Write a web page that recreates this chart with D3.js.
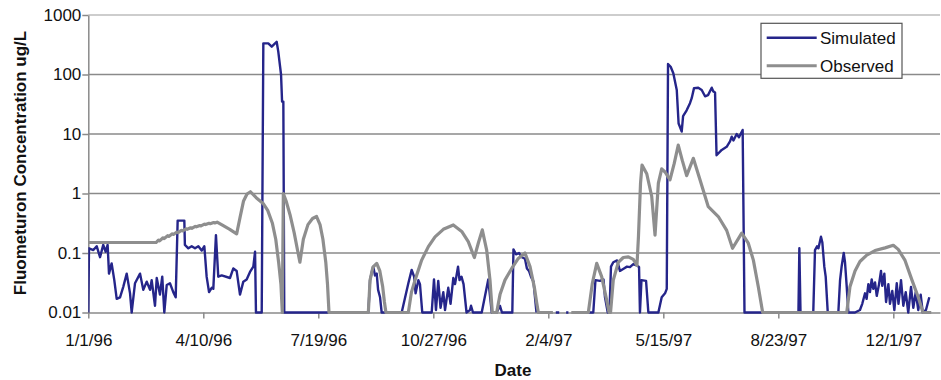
<!DOCTYPE html>
<html>
<head>
<meta charset="utf-8">
<script src="https://cdn.jsdelivr.net/npm/d3@7"></script>
<style>
  body { margin: 0; background: #fff; }
  text { font-family: "Liberation Sans", Arial, sans-serif; fill: #111; }
</style>
</head>
<body>
<div id="chart"></div>
<script>
const width = 941, height = 380;
const margin = { top: 15, right: 1, bottom: 67.5, left: 88.3 };

// days since 1/1/96, null = no value
const simDays = [0, 0.6, 4.4, 7.3, 10.2, 13, 15.1, 16.8, 18, 20.3, 22.6, 24.7, 27.6, 30.4, 33.4, 36.3, 37.7, 40.6, 45, 47.8, 50.8, 53.7, 55.1, 58, 59.5, 62.3, 64.3, 66.1, 68.2, 71, 73.9, 76, 77.7, 83.5, 84, 87, 89.9, 92.8, 95.7, 98.6, 100.9, 102.9, 105, 107.3, 108.7, 111, 113, 116, 123.2, 126.1, 129, 131.9, 134.8, 137.7, 140.6, 143.5, 145, 145.8, 150.8, 152.2, 156.5, 159.5, 161.5, 163.8, 165.2, 167.6, 168.5, 169.6, 170.4,
  243.5, 245, 246.7, 247.8, 249.3, 250.8, 252, 253.7, 255.1, 272.5, 278.3, 281.2, 283.3, 284.6, 287, 288.4, 290.4, 298.6, 300.6, 302.3, 304.3, 306.3, 308.7, 310.2, 313, 315, 317.4, 318.9, 321.5, 322.8, 324.5, 326.3, 328.9, 331.9, 332.8, 334.5, 342.1, 347.8, 350.8,
  355.1, 357.9, 359.7, 368.7, 369.7, 371.9, 374.5, 377.1, 379.7, 381.4, 383.2, 384.9, 387.1, 389.7, 398, 406.5, 409.5, 412, 415.5, 417.5, 425, 434.8,
  439.1, 441, 444.9, 448, 449.3, 451.7, 453.2, 454.5, 456.5, 459.8, 462.3, 465.8, 468.4, 471, 473.9, 476.7, 478.9, 479.7, 481, 485, 487, 495.7, 498.6, 501.5, 503, 504.1, 506.4, 508.7, 511.7, 513.3, 514.6, 516, 517.2, 520.3, 523.2, 524.7, 526.7, 530.4, 533.4, 536.3, 538.9, 542.1, 543.5, 545, 546.3, 550.8, 555.1, 558, 559.5, 561, 563.8, 565.8, 569, 570.6,
  617.5, 618.3, 619.3, 630.4, 631.9, 633.7, 634.9, 637.1, 638.3, 640, 641.2, 643, 652.2, 653.7, 655.1, 656.9, 658, 659.5, 660.9, 666.7, 671, 673, 675.4, 676.8, 678.3, 679.7, 681.2, 682.6, 684.1, 685.6, 687.6, 689.3, 690.4, 692.2, 693.7, 695.7, 697.1, 699.1, 700.9, 703, 704.5, 706.7, 708.7, 710.8, 713, 715.4, 717.4, 719.5, 721.7, 723.8, 725.6, 728.4, 731.3];
const simValues = [0.01, 0.12, 0.112, 0.13, 0.085, 0.137, 0.105, 0.137, 0.045, 0.067, 0.035, 0.017, 0.018, 0.027, 0.045, 0.021, 0.01, 0.031, 0.045, 0.024, 0.033, 0.024, 0.035, 0.013, 0.038, 0.02, 0.04, 0.01, 0.029, 0.031, 0.022, 0.018, 0.35, 0.35, 0.137, 0.12, 0.13, 0.12, 0.13, 0.11, 0.13, 0.04, 0.022, 0.026, 0.025, 0.2, 0.04, 0.042, 0.038, 0.055, 0.05, 0.02, 0.033, 0.036, 0.048, 0.059, 0.105, 0.01, 0.01, 334, 334, 293, 320, 355, 242, 100, 35, 35, 0.01,
  0.01, 0.035, 0.05, 0.059, 0.042, 0.045, 0.024, 0.018, 0.01, 0.01, 0.031, 0.052, 0.04, 0.021, 0.035, 0.03, 0.01, 0.01, 0.036, 0.011, 0.034, 0.012, 0.022, 0.011, 0.026, 0.014, 0.038, 0.03, 0.059, 0.035, 0.04, 0.03, 0.01, 0.011, 0.013, 0.01, 0.01, 0.036, 0.01,
  0.01, 0.013, 0.01, 0.01, 0.115, 0.095, 0.1, 0.085, 0.08, 0.055, 0.05, 0.04, 0.033, 0.01, null, 0.01, 0.01, null, 0.01, 0.01, null, 0.01,
  0.01, 0.035, 0.034, 0.036, 0.018, 0.01, 0.01, 0.059, 0.07, 0.075, 0.05, 0.055, 0.059, 0.058, 0.065, 0.062, 0.058, 0.01, 0.035, 0.034, 0.01, 0.01, 0.018, 0.021, 0.025, 150, 135, 105, 55, 15, 13, 11, 20, 25, 33, 40, 59, 60, 55, 43, 45, 60, 52, 50, 4.4, 5.4, 6.1, 7.5, 9, 7.8, 10, 8.8, 11.7, 0.01,
  0.01, 0.12, 0.01, 0.01, 0.112, 0.13, 0.12, 0.188, 0.15, 0.059, 0.04, 0.01, 0.01, 0.035, 0.06, 0.1, 0.07, 0.027, 0.01, 0.01, 0.011, 0.014, 0.021, 0.017, 0.03, 0.022, 0.036, 0.025, 0.032, 0.019, 0.03, 0.05, 0.028, 0.045, 0.015, 0.03, 0.014, 0.023, 0.011, 0.031, 0.014, 0.035, 0.013, 0.022, 0.01, 0.027, 0.012, 0.022, 0.011, 0.02, 0.01, 0.011, 0.018];

const obsDays = [0, 59, 61, 62, 65, 66, 69, 70, 73, 74, 77, 78, 81, 82, 85, 86, 89, 90, 93, 94, 97, 98, 101, 102, 105, 106, 109, 110, 112, 117, 123, 129, 132, 135, 138, 141, 146, 152, 156, 160, 163, 165.5, 167.5, 168.7, 169.6, 172, 175.4, 179, 182, 184, 187, 191, 195, 198.5, 201.5, 204, 206.5, 208, 209.3,
  243.5, 245, 247.5, 250.8, 253.5, 256, 257.5, 258.8, 278.3, 281, 284.1, 289.9, 295.7, 301.5, 308.7, 317.4, 324.7, 330.4, 335.7, 339.1, 342.6, 346.4, 349.3, 351.3,
  355.1, 358, 362.3, 368.2, 373.9, 379.7, 384.1, 387.8, 389.8, 391.3, 404, 412, 420, 434.8,
  438.3, 442.1, 446.4, 450.8, 452.8, 454.1, 456.5, 460.9, 465.2, 469.6, 473.9, 477.1, 478.4, 480.2, 481.5, 485.6, 489.9, 492.8, 495.7, 498.6, 501.5, 505.8, 509.5, 513, 516.5, 520.3, 526.1, 531.9, 539.1, 547.8, 555.1, 560.2, 568.2, 573.9, 578.3, 582.6, 586.4,
  659.5, 662.3, 666.7, 671, 676.9, 684.1, 692.8, 700, 704.3, 710.2, 716, 721.7, 725.8, 733];
const obsValues = [0.15, 0.15, 0.165, 0.16, 0.18, 0.175, 0.195, 0.19, 0.21, 0.205, 0.225, 0.22, 0.24, 0.235, 0.255, 0.25, 0.265, 0.26, 0.28, 0.275, 0.29, 0.285, 0.305, 0.3, 0.315, 0.31, 0.325, 0.32, 0.33, 0.29, 0.25, 0.21, 0.4, 0.75, 0.98, 1.07, 0.85, 0.68, 0.52, 0.32, 0.17, 0.07, 0.03, 0.01, 1.0, 0.75, 0.44, 0.22, 0.11, 0.07, 0.17, 0.3, 0.38, 0.41, 0.3, 0.17, 0.07, 0.03, 0.01,
  0.01, 0.035, 0.058, 0.067, 0.05, 0.027, 0.015, 0.01, 0.01, 0.022, 0.035, 0.076, 0.128, 0.187, 0.25, 0.296, 0.23, 0.155, 0.084, 0.146, 0.245, 0.112, 0.035, 0.01,
  0.01, 0.02, 0.035, 0.055, 0.081, 0.1, 0.059, 0.027, 0.015, 0.01, 0.01, null, 0.01, 0.01,
  0.031, 0.067, 0.04, 0.016, 0.01, 0.01, 0.035, 0.07, 0.084, 0.086, 0.078, 0.062, 0.19, 1.5, 3.0, 2.15, 0.9, 0.2, 1.5, 2.6, 2.3, 1.7, 3.2, 6.5, 3.6, 2.0, 3.9, 1.7, 0.6, 0.41, 0.24, 0.12, 0.216, 0.146, 0.076, 0.027, 0.01,
  0.01, 0.027, 0.05, 0.072, 0.092, 0.11, 0.122, 0.135, 0.115, 0.075, 0.036, 0.018, 0.01, 0.01];

const xTickDays = [0, 100, 200, 300, 400, 500, 600, 700];
const xTickLabels = ["1/1/96", "4/10/96", "7/19/96", "10/27/96", "2/4/97", "5/15/97", "8/23/97", "12/1/97"];
const yTickValues = [0.01, 0.1, 1, 10, 100, 1000];
const yTickLabels = ["0.01", "0.1", "1", "10", "100", "1000"];
const seriesNames = ["Simulated", "Observed"];
const seriesColors = ["#25258a", "#8e8e8e"];

const start = new Date(Date.UTC(1996, 0, 1));
const toDate = d => new Date(start.getTime() + d * 864e5);

const svg = d3.select("#chart")
    .append("svg")
    .attr("width", width)
    .attr("height", height);

const xScale = d3.scaleUtc()
    .domain([start, toDate(740.6)])
    .range([margin.left, width - margin.right]);

const yScale = d3.scaleLog()
    .domain([0.01, 1000])
    .range([height - margin.bottom, margin.top]);

// gridlines
svg.append("g")
    .selectAll("line")
    .data(yTickValues.slice(1))
    .join("line")
    .attr("x1", margin.left)
    .attr("x2", width - margin.right)
    .attr("y1", d => yScale(d))
    .attr("y2", d => yScale(d))
    .style("stroke", (d, i) => i === 4 ? "#bdbdbd" : "#8a8a8a")
    .style("stroke-width", 1.5);

// axes
const xAxis = svg.append("g")
    .attr("transform", `translate(0,${height - margin.bottom})`)
    .call(d3.axisBottom(xScale)
        .tickValues(xTickDays.map(toDate))
        .tickFormat((d, i) => xTickLabels[i])
        .tickSize(6)
        .tickSizeOuter(0));

const yAxis = svg.append("g")
    .attr("transform", `translate(${margin.left},0)`)
    .call(d3.axisLeft(yScale)
        .tickValues(yTickValues)
        .tickFormat((d, i) => yTickLabels[i])
        .tickSize(6)
        .tickSizeOuter(0));

[xAxis, yAxis].forEach(ax => {
    ax.select(".domain").style("stroke", "#8a8a8a").style("stroke-width", 1.5);
    ax.selectAll(".tick line").style("stroke", "#8a8a8a").style("stroke-width", 1.5);
    ax.selectAll(".tick text")
        .style("font-family", '"Liberation Sans", Arial, sans-serif')
        .style("font-size", "17px")
        .style("fill", "#111");
});
xAxis.selectAll(".tick text").attr("dy", "1.45em");
yAxis.selectAll(".tick text").attr("x", -7);

svg.append("clipPath")
    .attr("id", "plot")
    .append("rect")
    .attr("x", margin.left)
    .attr("y", margin.top - 2)
    .attr("width", width - margin.left - margin.right)
    .attr("height", height - margin.top - margin.bottom + 4);

const line = d3.line()
    .defined(d => d[1] !== null)
    .x(d => xScale(toDate(d[0])))
    .y(d => yScale(d[1]));

const series = [
    d3.zip(simDays, simValues),
    d3.zip(obsDays, obsValues)
];

svg.append("g")
    .attr("clip-path", "url(#plot)")
    .selectAll("path")
    .data(series)
    .join("path")
    .attr("d", d => line(d))
    .style("fill", "none")
    .style("stroke", (d, i) => seriesColors[i])
    .style("stroke-width", (d, i) => i === 0 ? 2.4 : 3.2)
    .style("stroke-linejoin", "round");

// axis titles
svg.append("text")
    .attr("x", 513)
    .attr("y", 376)
    .attr("text-anchor", "middle")
    .style("font-size", "17px")
    .style("font-weight", "bold")
    .text("Date");

svg.append("text")
    .attr("transform", "translate(26,163) rotate(-90)")
    .attr("text-anchor", "middle")
    .style("font-size", "17px")
    .style("font-weight", "bold")
    .text("Fluometuron Concentration ug/L");

// legend
const legend = svg.append("g").attr("transform", "translate(761,23.3)");
legend.append("rect")
    .attr("width", 141)
    .attr("height", 55)
    .style("fill", "#fff")
    .style("stroke", "#555")
    .style("stroke-width", 1.2);

const items = legend.selectAll(".item")
    .data(seriesNames)
    .join("g")
    .attr("class", "item")
    .attr("transform", (d, i) => `translate(0,${14.4 + i * 28})`);

items.append("line")
    .attr("x1", 5.7)
    .attr("x2", 55.7)
    .style("stroke", (d, i) => seriesColors[i])
    .style("stroke-width", (d, i) => i === 0 ? 2.5 : 3);

items.append("text")
    .attr("x", 59)
    .attr("dy", "0.35em")
    .style("font-size", "17px")
    .text(d => d);
</script>
</body>
</html>
